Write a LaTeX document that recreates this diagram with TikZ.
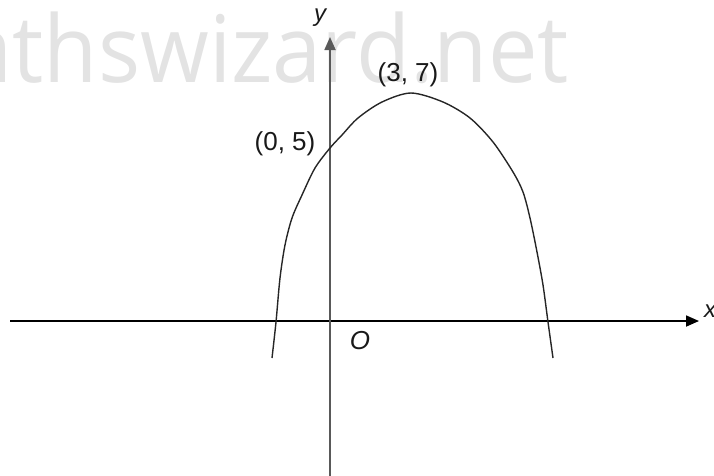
\documentclass[tikz,border=0pt]{standalone}
\usepackage{fontspec}
\setmainfont{Liberation Sans}
\newfontfamily\wmfont{Open Sans}
\usetikzlibrary{arrows.meta}
\begin{document}
\begin{tikzpicture}[x=1pt,y=-1pt,
  lbl/.style={font=\fontsize{26}{28}\selectfont, text=black!90, inner sep=0pt},
  axisline/.style={line width=1.8pt, -{Triangle[length=13pt,width=11pt]}},
  curveline/.style={line width=1.4pt, black!85}]
\useasboundingbox (0,0) rectangle (714,475);
\clip (0,0) rectangle (714,475);
% watermark
\node[anchor=base east, inner sep=0pt, text=black!11, xscale=0.95,
      font=\wmfont\fontsize{93}{100}\selectfont] (wm) at (569,82) {athswizard.net};
% axes
\coordinate (xs) at (10,321);
\coordinate (xe) at (699,321);
\coordinate (ys) at (330,476);
\coordinate (ye) at (330,37);
\draw[axisline, black] (xs) -- (xe);
\draw[axisline, black!65] (ys) -- (ye);
% curve
\draw[curveline] plot[smooth, tension=0.5] coordinates {
  (272,358) (276,322) (280,278) (285,245) (292,218) (302,195) (315,168)
  (330,148) (342,135) (358,118) (382,102) (411,93) (443,102) (470,118)
  (493,142) (513,172) (523,192) (530,218) (537,252) (543,285) (548,322) (553,358)};
% labels
\node[lbl, font=\fontsize{24}{26}\selectfont\itshape] (ylab) at (320,18) {y};
\node[lbl, font=\fontsize{24}{26}\selectfont\itshape, anchor=west] (xlab) at (704,311) {x};
\node[lbl, font=\fontsize{26}{28}\selectfont\itshape] (olab) at (360,341) {O};
\node[lbl] (p05) at (285,144) {(0, 5)};
\node[lbl] (p37) at (408,75) {(3, 7)};
\end{tikzpicture}
\end{document}
